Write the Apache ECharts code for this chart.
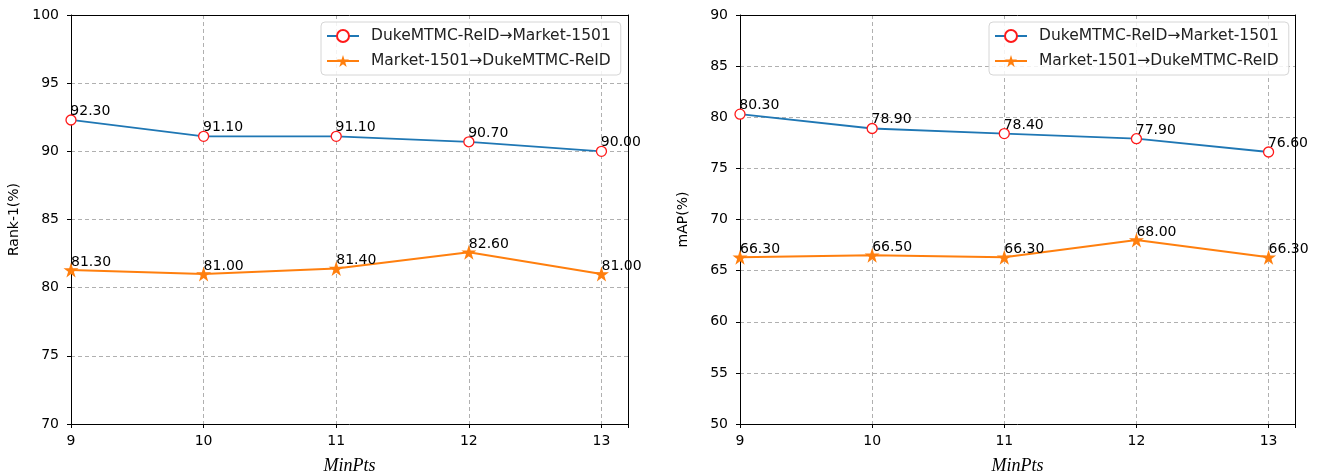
<!DOCTYPE html>
<html>
<head>
<meta charset="utf-8">
<script src="https://cdn.jsdelivr.net/npm/echarts@6/dist/echarts.min.js"></script>
<style>
html,body{margin:0;padding:0;background:#fff;}
#chart{width:1323px;height:475px;}
</style>
</head>
<body>
<div id="chart"></div>
<script>
// ---- data ----
const minPts = [9, 10, 11, 12, 13];
const seriesNames = ['DukeMTMC-ReID→Market-1501', 'Market-1501→DukeMTMC-ReID'];
const rank1Duke2Market = [92.3, 91.1, 91.1, 90.7, 90.0];
const rank1Market2Duke = [81.3, 81.0, 81.4, 82.6, 81.0];
const mapDuke2Market = [80.3, 78.9, 78.4, 77.9, 76.6];
const mapMarket2Duke = [66.3, 66.5, 66.3, 68.0, 66.3];
const yNames = ['Rank-1(%)', 'mAP(%)'];
const xName = 'MinPts';

// ---- styling ----
const FONT = 'DejaVu Sans';
const BLUE = '#1f77b4', ORANGE = '#ff7f0e';
const STAR = 'path://M0,-10 L2.245,-3.09 L9.51,-3.09 L3.633,1.18 L5.878,8.09 L0,3.82 L-5.878,8.09 L-3.633,1.18 L-9.51,-3.09 L-2.245,-3.09 Z';

const grids = [
  {left: 71, top: 15, width: 557, height: 409, outerBoundsMode: 'none', containLabel: false},
  {left: 740, top: 15, width: 555, height: 409, outerBoundsMode: 'none', containLabel: false}
];
const yRanges = [[70, 100], [50, 90]];
const GRIDLINE = {show: true, lineStyle: {color: '#b0b0b0', type: [4, 3], width: 1}};

function xAxis(i) {
  return {
    type: 'value', gridIndex: i, min: 9, max: 13.2, interval: 1,
    name: xName, nameLocation: 'middle', nameGap: 33,
    nameTextStyle: {fontFamily: 'Liberation Serif', fontStyle: 'italic', fontSize: 18, color: '#000'},
    axisLine: {show: true, onZero: false, lineStyle: {color: '#000', width: 1}},
    axisTick: {show: true, inside: false, length: 4, lineStyle: {color: '#000'}},
    axisLabel: {fontFamily: FONT, fontSize: 14, color: '#000', margin: 10,
      formatter: v => (Number.isInteger(v) ? String(v) : '')},
    splitLine: GRIDLINE
  };
}
function xAxisTop(i) {
  return {
    type: 'value', gridIndex: i, min: 9, max: 13.2, position: 'top',
    axisLine: {show: true, onZero: false, lineStyle: {color: '#000', width: 1}},
    axisTick: {show: false}, axisLabel: {show: false}, splitLine: {show: false}
  };
}
function yAxis(i) {
  return {
    type: 'value', gridIndex: i, min: yRanges[i][0], max: yRanges[i][1], interval: 5,
    name: yNames[i], nameLocation: 'middle', nameGap: 50,
    nameTextStyle: {fontFamily: FONT, fontSize: 14, color: '#000'},
    axisLine: {show: true, onZero: false, lineStyle: {color: '#000', width: 1}},
    axisTick: {show: true, inside: false, length: 4, lineStyle: {color: '#000'}},
    axisLabel: {fontFamily: FONT, fontSize: 14, color: '#000', margin: 12},
    splitLine: GRIDLINE
  };
}
function yAxisRight(i) {
  return {
    type: 'value', gridIndex: i, min: yRanges[i][0], max: yRanges[i][1], position: 'right',
    axisLine: {show: true, onZero: false, lineStyle: {color: '#000', width: 1}},
    axisTick: {show: false}, axisLabel: {show: false}, splitLine: {show: false}
  };
}

function pairs(arr) { return minPts.map((x, k) => [x, arr[k]]); }

function blueSeries(i, arr) {
  return {
    name: seriesNames[0], type: 'line', xAxisIndex: i, yAxisIndex: i,
    data: pairs(arr), symbol: 'circle', symbolSize: 10, clip: false,
    lineStyle: {color: BLUE, width: 1.8},
    itemStyle: {color: '#fff', borderColor: '#ff1a1a', borderWidth: 1.3},
    label: {show: true, position: [5, 4], align: 'left', verticalAlign: 'bottom',
      fontFamily: FONT, fontSize: 14, color: '#000', formatter: p => p.value[1].toFixed(2)},
    emphasis: {disabled: true}, animation: false, z: 3
  };
}
function orangeSeries(i, arr) {
  return {
    name: seriesNames[1], type: 'line', xAxisIndex: i, yAxisIndex: i,
    data: pairs(arr), symbol: STAR, symbolSize: 15, clip: false,
    lineStyle: {color: ORANGE, width: 2},
    itemStyle: {color: ORANGE, borderColor: ORANGE, borderWidth: 0},
    label: {show: true, position: [7.5, 6.5], align: 'left', verticalAlign: 'bottom',
      fontFamily: FONT, fontSize: 14, color: '#000', formatter: p => p.value[1].toFixed(2)},
    emphasis: {disabled: true}, animation: false, z: 3
  };
}

function legend(left) {
  return {
    orient: 'vertical', left: left, top: 22,
    data: [
      {name: seriesNames[0]},
      {name: seriesNames[1]}
    ],
    itemWidth: 32, itemHeight: 15, itemGap: 9,
    padding: [6, 10, 6, 5],
    borderColor: '#d6d6d6', borderWidth: 1, borderRadius: 4,
    backgroundColor: 'rgba(255,255,255,0.85)',
    textStyle: {fontFamily: FONT, fontSize: 15.5, color: '#222', padding: [0, 0, 0, 7]},
    selectedMode: false
  };
}

const chart = echarts.init(document.getElementById('chart'), null, {renderer: 'canvas'});
chart.setOption({
  animation: false,
  backgroundColor: '#fff',
  grid: grids,
  xAxis: [xAxis(0), xAxis(1), xAxisTop(0), xAxisTop(1)],
  yAxis: [yAxis(0), yAxis(1), yAxisRight(0), yAxisRight(1)],
  legend: [legend(321), legend(989)],
  series: [
    blueSeries(0, rank1Duke2Market),
    orangeSeries(0, rank1Market2Duke),
    blueSeries(1, mapDuke2Market),
    orangeSeries(1, mapMarket2Duke)
  ]
});
</script>
</body>
</html>
